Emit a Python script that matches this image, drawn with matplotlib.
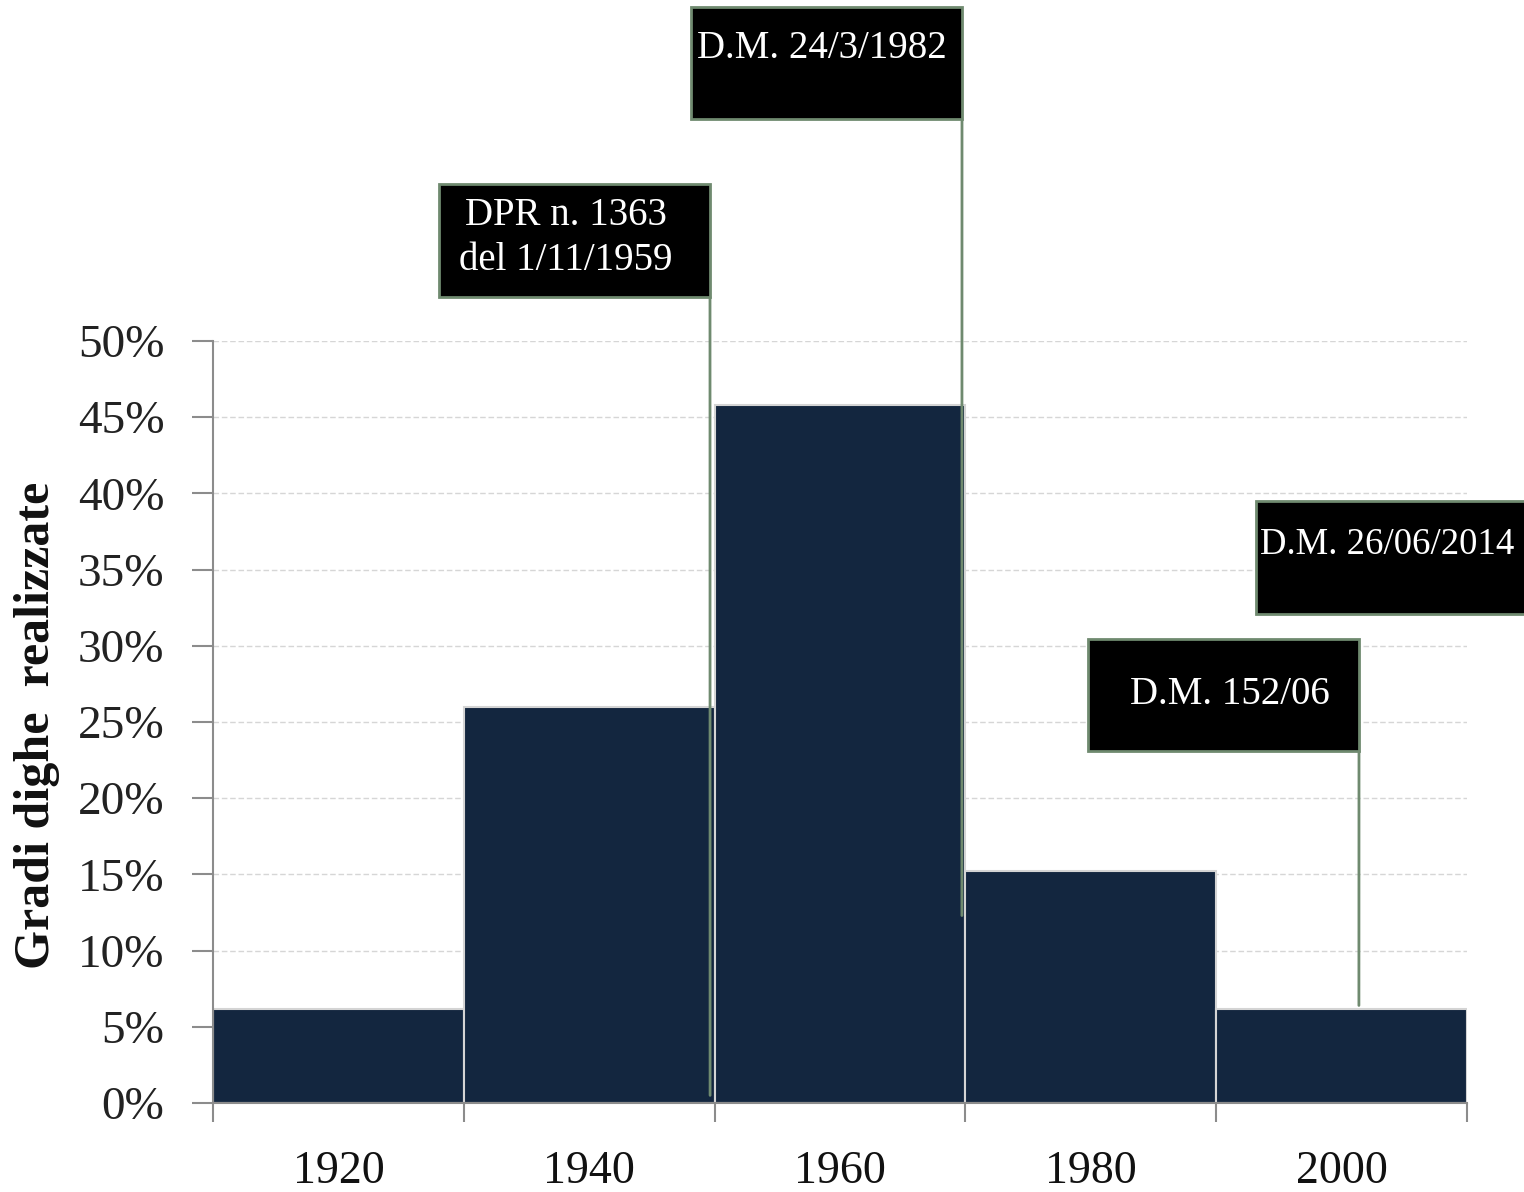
import matplotlib
matplotlib.use("Agg")
import matplotlib.pyplot as plt
from matplotlib.patches import Rectangle
from matplotlib.ticker import FuncFormatter, MultipleLocator

plt.rcParams['font.family'] = ['Liberation Serif', 'DejaVu Serif']

# decenni e quota di dighe realizzate
decenni = ['1920', '1940', '1960', '1980', '2000']
quote = [0.062, 0.260, 0.458, 0.152, 0.062]

# riferimenti normativi: testo, box (figure px: x0, y0 dall'alto, x1, y1), punto di arrivo della linea (x, y dati)
norme_testo = ['DPR n. 1363\ndel 1/11/1959', 'D.M. 24/3/1982', 'D.M. 152/06', 'D.M. 26/06/2014']
norme_box = [(439, 184, 710, 297), (691, 7, 962, 119), (1088, 639, 1359, 751), (1256, 501, 1530, 614)]
norme_testo_pos = [(566, 238), (822, 48), (1230, 695), (1260, 545)]
norme_size = [28, 28, 28, 26.5]
norme_punto = [(1.482, 0.005), (2.486, 0.123), (4.069, 0.064), None]

W, H = 1524, 1192
fig = plt.figure(figsize=(W / 100, H / 100), dpi=100)
ax = fig.add_axes([213 / W, 1 - 1103 / H, (1467 - 213) / W, (1103 - 341) / H])

x = list(range(len(decenni)))
ax.bar(x, quote, width=1.0, color='#13263f', edgecolor='#d4d4d4', linewidth=1.5, zorder=2)

ax.set_xlim(-0.5, len(decenni) - 0.5)
ax.set_ylim(0, 0.5)

# assi
ax.yaxis.set_major_locator(MultipleLocator(0.05))
ax.yaxis.set_major_formatter(FuncFormatter(lambda v, p: f"{v * 100:.0f}%"))
ax.grid(axis='y', color='#d6d6d6', linestyle=(0, (4, 2)), linewidth=1, zorder=0)
for s in ['top', 'right']:
    ax.spines[s].set_visible(False)
for s in ['left', 'bottom']:
    ax.spines[s].set_color('#8c8c8c')
    ax.spines[s].set_linewidth(1.5)

ax.set_xticks([i - 0.5 for i in range(len(decenni) + 1)])
ax.set_xticklabels([])
ax.set_xticks(x, minor=True)
ax.set_xticklabels(decenni, minor=True)
ax.tick_params(axis='x', which='major', length=14, width=1.5, color='#8c8c8c', direction='out')
ax.tick_params(axis='x', which='minor', length=0, pad=34, labelsize=33, labelcolor='#111111')
ax.tick_params(axis='y', length=15, width=1.5, color='#8c8c8c', direction='out', pad=20,
               labelsize=34, labelcolor='#222222')

fig.text(37 / W, 1 - 725 / H, 'Gradi dighe  realizzate', rotation=90, fontsize=36,
         fontweight='bold', ha='center', va='center', color='#111111')

# box delle norme con linea di collegamento
for testo, box, tp, fs, punto in zip(norme_testo, norme_box, norme_testo_pos, norme_size, norme_punto):
    x0, y0, x1, y1 = box
    if punto is not None:
        ax.annotate('', xy=punto, xycoords='data',
                    xytext=(x1 / W, 1 - y1 / H), textcoords='figure fraction',
                    arrowprops=dict(arrowstyle='-', color='#6f8a6f', linewidth=2,
                                    shrinkA=0, shrinkB=0), zorder=5)
    fig.patches.append(Rectangle((x0 / W, 1 - y1 / H), (x1 - x0) / W, (y1 - y0) / H,
                                 transform=fig.transFigure, facecolor='black',
                                 edgecolor='#6f8a6f', linewidth=2, zorder=6))
    ha = 'left' if testo.startswith('D.M. 26') else 'center'
    fig.text(tp[0] / W, 1 - tp[1] / H, testo, color='white', fontsize=fs,
             ha=ha, va='center', linespacing=1.3, zorder=7)

fig.savefig('out.png', dpi=100)
